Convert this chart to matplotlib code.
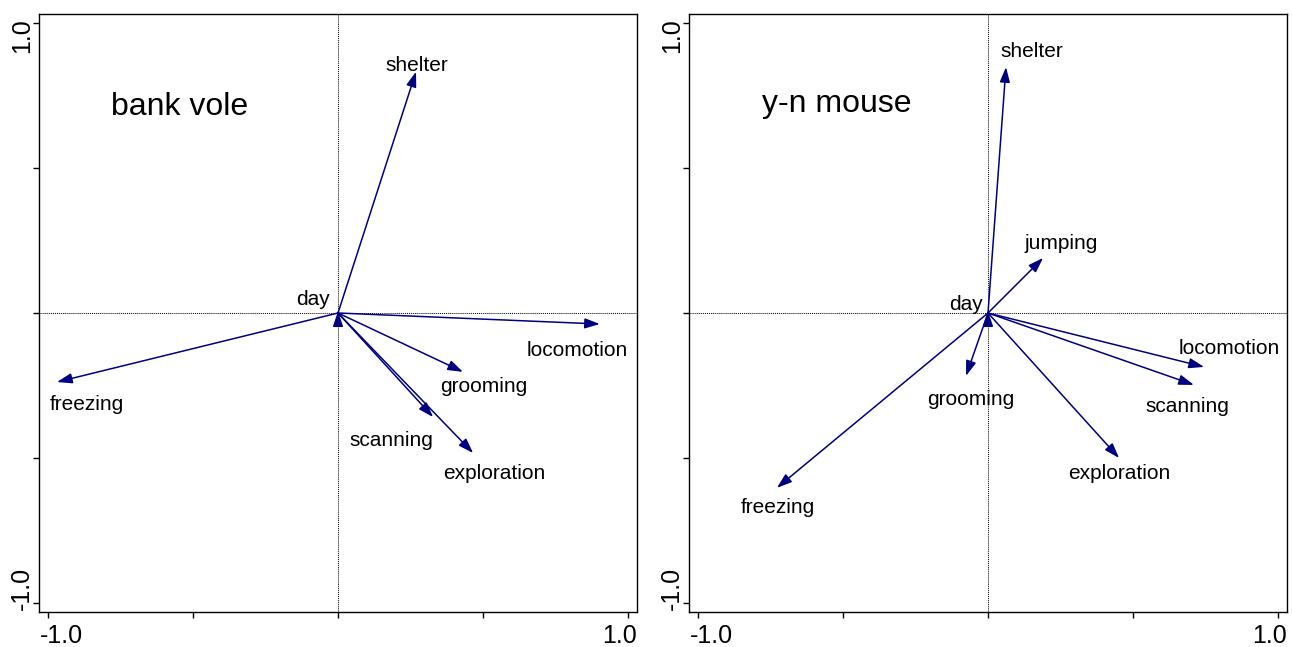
import matplotlib.pyplot as plt

plt.rcParams['font.family'] = ['Liberation Sans', 'DejaVu Sans']

# arrow tips (x, y) and label positions for each panel
vole_names = ["shelter", "locomotion", "freezing", "grooming", "scanning", "exploration", "day"]
vole_x = [0.269, 0.903, -0.969, 0.431, 0.328, 0.466, 0.0]
vole_y = [0.832, -0.038, -0.238, -0.203, -0.359, -0.483, 0.006]
vole_lx = [0.272, 0.824, -0.866, 0.503, 0.183, 0.538, -0.086]
vole_ly = [0.855, -0.128, -0.317, -0.255, -0.438, -0.552, 0.045]

mouse_names = ["shelter", "jumping", "grooming", "locomotion", "scanning", "exploration", "freezing", "day"]
mouse_x = [0.062, 0.19, -0.076, 0.745, 0.710, 0.452, -0.728, 0.0]
mouse_y = [0.848, 0.19, -0.217, -0.186, -0.248, -0.500, -0.603, 0.006]
mouse_lx = [0.152, 0.252, -0.059, 0.831, 0.686, 0.452, -0.724, -0.076]
mouse_ly = [0.903, 0.238, -0.297, -0.121, -0.324, -0.552, -0.672, 0.031]

titles = ["bank vole", "y-n mouse"]
title_x = [-0.545, -0.521]
title_y = [0.710, 0.721]

ticks = [-1.0, -0.5, 0.0, 0.5, 1.0]
end_labels = ["-1.0", "1.0"]
lim = 1.031


def biplot(ax, names, xs, ys, lxs, lys, title, tx, ty):
    ax.set_xlim(-lim, lim)
    ax.set_ylim(-lim, lim)
    ax.axhline(0, color="black", lw=0.7, ls=(0, (1, 1)))
    ax.axvline(0, color="black", lw=0.7, ls=(0, (1, 1)))
    for name, x, y, lx, ly in zip(names, xs, ys, lxs, lys):
        ax.annotate("", xy=(x, y), xytext=(0, 0),
                    arrowprops=dict(arrowstyle="-|>,head_length=0.65,head_width=0.22",
                                    color="navy", lw=1.1, mutation_scale=14,
                                    shrinkA=0, shrinkB=0))
        ax.text(lx, ly, name, fontsize=15, ha="center", va="center")
    ax.text(tx, ty, title, fontsize=23, ha="center", va="center")

    # ticks at every 0.5, only the end values labelled (flush with the box)
    ax.set_xticks(ticks)
    ax.set_yticks(ticks)
    ax.set_xticklabels([])
    ax.set_yticklabels([])
    ax.tick_params(direction="out", length=4, width=1)
    ax.text(0.002, -0.040, end_labels[0], transform=ax.transAxes, fontsize=18,
            ha="left", va="center")
    ax.text(1.0, -0.040, end_labels[1], transform=ax.transAxes, fontsize=18,
            ha="right", va="center")
    ax.text(-0.028, 0.004, end_labels[0], transform=ax.transAxes, fontsize=18,
            ha="center", va="bottom", rotation=90)
    ax.text(-0.028, 0.993, end_labels[1], transform=ax.transAxes, fontsize=18,
            ha="center", va="top", rotation=90)
    for s in ax.spines.values():
        s.set_linewidth(1.0)


fig = plt.figure(figsize=(12.92, 6.47), dpi=100)
ax1 = fig.add_axes([39 / 1292, 35 / 647, 598 / 1292, 598 / 647])
ax2 = fig.add_axes([689 / 1292, 35 / 647, 598 / 1292, 598 / 647])

biplot(ax1, vole_names, vole_x, vole_y, vole_lx, vole_ly, titles[0], title_x[0], title_y[0])
biplot(ax2, mouse_names, mouse_x, mouse_y, mouse_lx, mouse_ly, titles[1], title_x[1], title_y[1])

fig.savefig("out.png", dpi=100)
